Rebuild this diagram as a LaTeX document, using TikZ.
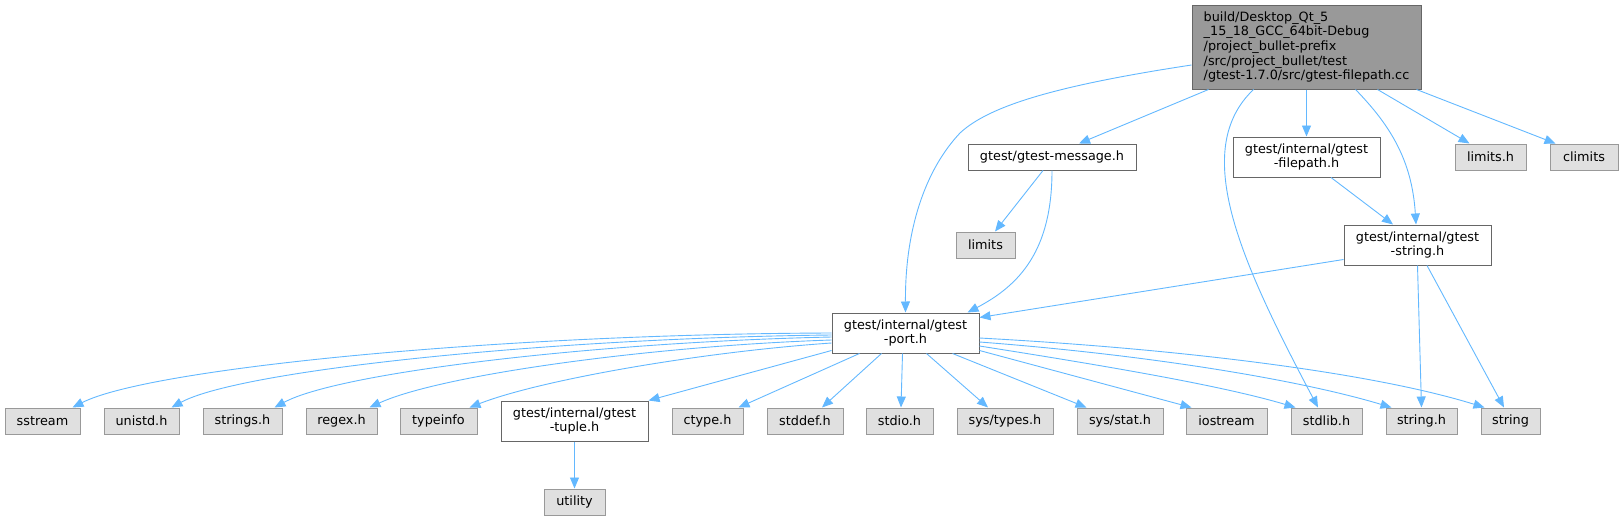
\documentclass[tikz,border=0pt]{standalone}
\usepackage{fontspec}
\setmainfont{DejaVu Sans}
\usetikzlibrary{arrows.meta,calc}
\definecolor{edgeblue}{HTML}{63B8FF}
\definecolor{sysfill}{HTML}{E0E0E0}
\definecolor{sysborder}{HTML}{999999}
\definecolor{intborder}{HTML}{666666}
\definecolor{rootfill}{HTML}{999999}
\begin{document}
\begin{tikzpicture}[x=1pt,y=-1pt,
  font=\fontsize{12.8}{14.7}\selectfont,
  nodebox/.style={line width=1pt, inner sep=0pt, minimum height=26pt, anchor=center},
  sysbox/.style={nodebox, fill=sysfill, draw=sysborder},
  intbox/.style={nodebox, fill=white, draw=intborder, align=center, minimum height=40pt},
  rootbox/.style={nodebox, fill=rootfill, draw=intborder, align=left, minimum height=84pt},
  link/.style={draw=edgeblue, line width=0.9pt, -{Triangle[length=11pt,width=9pt]}}]
\useasboundingbox (0,0) rectangle (1623,520);

% nodes
\node[rootbox, minimum width=229pt] (root) at (1306.5,47)
  {build/Desktop\_Qt\_5\\\_15\_18\_GCC\_64bit-Debug\\/project\_bullet-prefix\\/src/project\_bullet/test\\/gtest-1.7.0/src/gtest-filepath.cc};
\node[intbox, minimum width=168pt, minimum height=26pt] (msg) at (1052,157) {gtest/gtest-message.h};
\node[intbox, minimum width=147pt] (fpath) at (1306.5,157) {gtest/internal/gtest\\-filepath.h};
\node[sysbox, minimum width=71pt] (limitsh) at (1490.5,157) {limits.h};
\node[sysbox, minimum width=68pt] (climits) at (1584,157) {climits};
\node[sysbox, minimum width=59pt] (limits) at (985.5,245) {limits};
\node[intbox, minimum width=147pt] (gstr) at (1417.5,245) {gtest/internal/gtest\\-string.h};
\node[intbox, minimum width=147pt] (port) at (905.5,333) {gtest/internal/gtest\\-port.h};

\node[sysbox, minimum width=75pt] (sstream) at (42.5,421) {sstream};
\node[sysbox, minimum width=75pt] (unistd) at (141.5,421) {unistd.h};
\node[sysbox, minimum width=79pt] (strings) at (242.5,421) {strings.h};
\node[sysbox, minimum width=71pt] (regex) at (341.5,421) {regex.h};
\node[sysbox, minimum width=77pt] (typeinfo) at (438.5,421) {typeinfo};
\node[intbox, minimum width=147pt] (tuple) at (574.5,421) {gtest/internal/gtest\\-tuple.h};
\node[sysbox, minimum width=71pt] (ctype) at (707.5,421) {ctype.h};
\node[sysbox, minimum width=76pt] (stddef) at (805,421) {stddef.h};
\node[sysbox, minimum width=67pt] (stdio) at (899.5,421) {stdio.h};
\node[sysbox, minimum width=96pt] (systypes) at (1005,421) {sys/types.h};
\node[sysbox, minimum width=86pt] (sysstat) at (1120,421) {sys/stat.h};
\node[sysbox, minimum width=81pt] (iostream) at (1226.5,421) {iostream};
\node[sysbox, minimum width=71pt] (stdlib) at (1326.5,421) {stdlib.h};
\node[sysbox, minimum width=71pt] (stringh) at (1421.5,421) {string.h};
\node[sysbox, minimum width=59pt] (string) at (1510.5,421) {string};
\node[sysbox, minimum width=61pt] (utility) at (574.5,502) {utility};

% edges from root
\draw[link] ($(root.west)+(0,18)$) .. controls (1060,85) and (990,105) .. (960,133)
  .. controls (925,170) and (905,230) .. (port.north);
\draw[link] ($(root.south west)+(17,0)$) -- ($(msg.north)+(27,0)$);
\draw[link] ($(root.south west)+(62,0)$) .. controls (1190,150) and (1240,260) .. ($(stdlib.north)+(-8.5,0)$);
\draw[link] (root.south) -- (fpath.north);
\draw[link] ($(root.south east)+(-66,0)$) .. controls (1390,125) and (1412,160) .. ($(gstr.north)+(-1.5,0)$);
\draw[link] ($(root.south east)+(-44,0)$) -- ($(limitsh.north west)+(15,0)$);
\draw[link] ($(root.south east)+(-5,0)$) -- ($(climits.north west)+(6,0)$);

% edges from message
\draw[link] ($(msg.south)+(-9,0)$) -- ($(limits.north)+(9.5,0)$);
\draw[link] (msg.south) .. controls (1052,250) and (1020,285) .. ($(port.north east)+(-12,0)$);

% filepath and string
\draw[link] ($(fpath.south)+(24.5,0)$) -- ($(gstr.north)+(-24.5,0)$);
\draw[link] ($(gstr.south west)+(0,-6)$) -- ($(port.north east)+(0,5)$);
\draw[link] (gstr.south) -- (stringh.north);
\draw[link] ($(gstr.south)+(9.5,0)$) -- ($(string.north)+(-6.5,0)$);

% edges from port
\draw[link] (port.west) .. controls (500,334) and (150,368) .. ($(sstream.north east)+(-8,0)$);
\draw[link] ($(port.west)+(0,2)$) .. controls (550,338) and (240,370) .. ($(unistd.north east)+(-8,0)$);
\draw[link] ($(port.west)+(0,4)$) .. controls (600,342) and (340,372) .. ($(strings.north east)+(-8,0)$);
\draw[link] ($(port.west)+(0,7)$) .. controls (650,346) and (440,375) .. ($(regex.north east)+(-8,0)$);
\draw[link] ($(port.west)+(0,10)$) .. controls (700,352) and (540,380) .. ($(typeinfo.north east)+(-8,0)$);
\draw[link] ($(port.south west)+(0,-3)$) -- (tuple.north east);
\draw[link] ($(port.south west)+(28,0)$) -- ($(ctype.north east)+(-5,0)$);
\draw[link] ($(port.south west)+(50,0)$) -- ($(stddef.north)+(17,0)$);
\draw[link] ($(port.south west)+(71,0)$) -- ($(stdio.north)+(1.5,0)$);
\draw[link] ($(port.south west)+(95,0)$) -- ($(systypes.north)+(-17,0)$);
\draw[link] ($(port.south west)+(121,0)$) -- ($(sysstat.north west)+(10,0)$);
\draw[link] ($(port.south east)+(0,-3)$) -- ($(iostream.north west)+(6,0)$);
\draw[link] ($(port.east)+(0,13)$) .. controls (1100,365) and (1220,385) .. ($(stdlib.north west)+(5,0)$);
\draw[link] ($(port.east)+(0,9)$) .. controls (1150,355) and (1300,380) .. ($(stringh.north west)+(6,0)$);
\draw[link] ($(port.east)+(0,5)$) .. controls (1200,350) and (1380,375) .. ($(string.north west)+(4,0)$);

% tuple
\draw[link] (tuple.south) -- (utility.north);
\end{tikzpicture}
\end{document}
